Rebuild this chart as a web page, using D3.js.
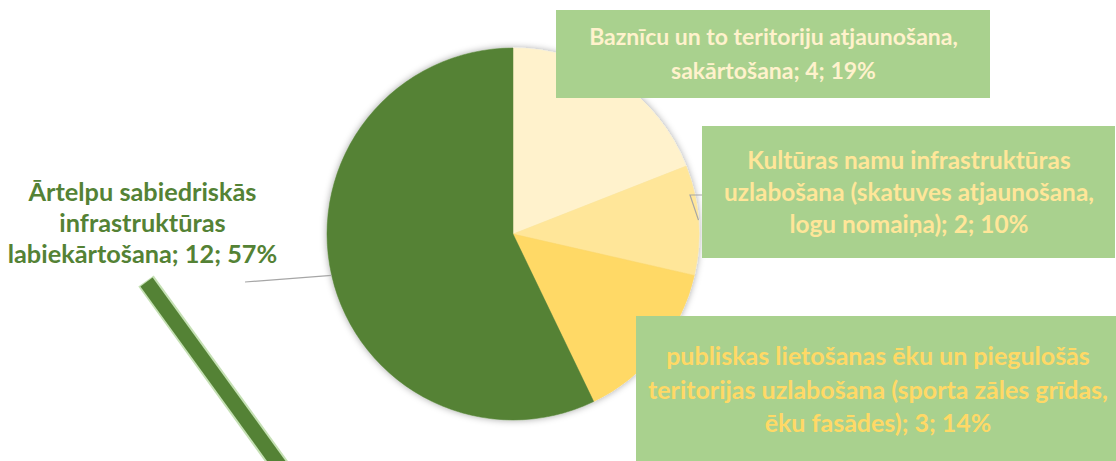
<!DOCTYPE html>
<html>
<head>
<meta charset="utf-8">
<script src="https://cdn.jsdelivr.net/npm/d3@7"></script>
<style>
  html, body { margin: 0; padding: 0; background: #fff; }
  svg text { font-family: Lato, "Open Sans", sans-serif; font-weight: 700; }
</style>
</head>
<body>
<svg id="chart" width="1116" height="461"></svg>
<script>
// chart data
var categories = [
  'Baznīcu un to teritoriju atjaunošana, sakārtošana',
  'Kultūras namu infrastruktūras uzlabošana (skatuves atjaunošana, logu nomaiņa)',
  'publiskas lietošanas ēku un piegulošās teritorijas uzlabošana (sporta zāles grīdas, ēku fasādes)',
  'Ārtelpu sabiedriskās infrastruktūras labiekārtošana'
];
var values = [4, 2, 3, 12];
var sliceColors = ['#FFF2CC', '#FFE699', '#FFD966', '#548235'];
// how each label is wrapped in the picture
var labelLines = [
  ['Baznīcu un to teritoriju atjaunošana,', 'sakārtošana; {v}; {p}'],
  ['Kultūras namu infrastruktūras', 'uzlabošana (skatuves atjaunošana,', 'logu nomaiņa); {v}; {p}'],
  ['publiskas lietošanas ēku un piegulošās', 'teritorijas uzlabošana (sporta zāles grīdas,', 'ēku fasādes); {v}; {p}'],
  ['Ārtelpu sabiedriskās', 'infrastruktūras', 'labiekārtošana; {v}; {p}']
];

var svg = d3.select('#chart');
var cx = 513, cy = 234, radius = 186;
var total = d3.sum(values);

var defs = svg.append('defs');
var shadow = defs.append('filter').attr('id', 'pieShadow')
  .attr('x', '-10%').attr('y', '-10%').attr('width', '120%').attr('height', '120%');
shadow.append('feDropShadow')
  .attr('dx', 0).attr('dy', 0).attr('stdDeviation', 3.5)
  .attr('flood-color', '#000').attr('flood-opacity', 0.35);

var pie = d3.pie().sort(null).value(function(d) { return d; });
var arc = d3.arc().innerRadius(0).outerRadius(radius);
var arcs = pie(values);

var g = svg.append('g').attr('transform', 'translate(' + cx + ',' + cy + ')');

g.append('g').attr('filter', 'url(#pieShadow)')
  .selectAll('path')
  .data(arcs)
  .enter().append('path')
    .attr('d', arc)
    .attr('fill', function(d, i) { return sliceColors[i]; })
    .attr('stroke', function(d, i) { return sliceColors[i]; })
    .attr('stroke-width', 0.5);

// leader lines
var leaderPoint = function(i, r) {
  var a = (arcs[i].startAngle + arcs[i].endAngle) / 2;
  return [cx + Math.sin(a) * r, cy - Math.cos(a) * r];
};
var p1 = leaderPoint(1, radius);
svg.append('polyline')
  .attr('points', [p1, [690, 195], [702, 195]].map(function(p) { return p.join(','); }).join(' '))
  .attr('fill', 'none').attr('stroke', '#A6A6A6').attr('stroke-width', 1.2);

var p3 = leaderPoint(3, radius);
svg.append('polyline')
  .attr('points', [p3, [245, 282]].map(function(p) { return p.join(','); }).join(' '))
  .attr('fill', 'none').attr('stroke', '#A6A6A6').attr('stroke-width', 1.2);

// label boxes
var boxes = [
  {x: 556, y: 10, w: 434, h: 88, fill: '#A9D18E', tx: 773.5, ty: 45, lh: 34, fs: 23},
  {x: 702, y: 126, w: 413, h: 132, fill: '#A9D18E', tx: 909, ty: 169, lh: 32, fs: 24.4},
  {x: 636, y: 316, w: 490, h: 160, fill: '#A9D18E', tx: 878, ty: 365, lh: 33.5, fs: 25},
  {x: 0, y: 0, w: 0, h: 0, fill: 'none', tx: 142.5, ty: 201, lh: 31, fs: 25.3}
];

// odd green bar below the left label
svg.append('line')
  .attr('x1', 146).attr('y1', 281).attr('x2', 290).attr('y2', 480)
  .attr('stroke', '#C5E0B4').attr('stroke-width', 19);
svg.append('line')
  .attr('x1', 146.5).attr('y1', 282).attr('x2', 290).attr('y2', 480)
  .attr('stroke', '#548235').attr('stroke-width', 15);

var labels = svg.append('g').selectAll('g')
  .data(arcs)
  .enter().append('g');

labels.append('rect')
  .attr('x', function(d, i) { return boxes[i].x; })
  .attr('y', function(d, i) { return boxes[i].y; })
  .attr('width', function(d, i) { return boxes[i].w; })
  .attr('height', function(d, i) { return boxes[i].h; })
  .attr('fill', function(d, i) { return boxes[i].fill; });

labels.each(function(d, i) {
  var pct = Math.round(values[i] / total * 100) + '%';
  var t = d3.select(this).append('text')
    .attr('text-anchor', 'middle')
    .attr('font-size', boxes[i].fs)
    .attr('fill', sliceColors[i]);
  labelLines[i].forEach(function(line, k) {
    t.append('tspan')
      .attr('x', boxes[i].tx)
      .attr('y', boxes[i].ty + k * boxes[i].lh)
      .text(line.replace('{v}', values[i]).replace('{p}', pct));
  });
});
</script>
</body>
</html>
